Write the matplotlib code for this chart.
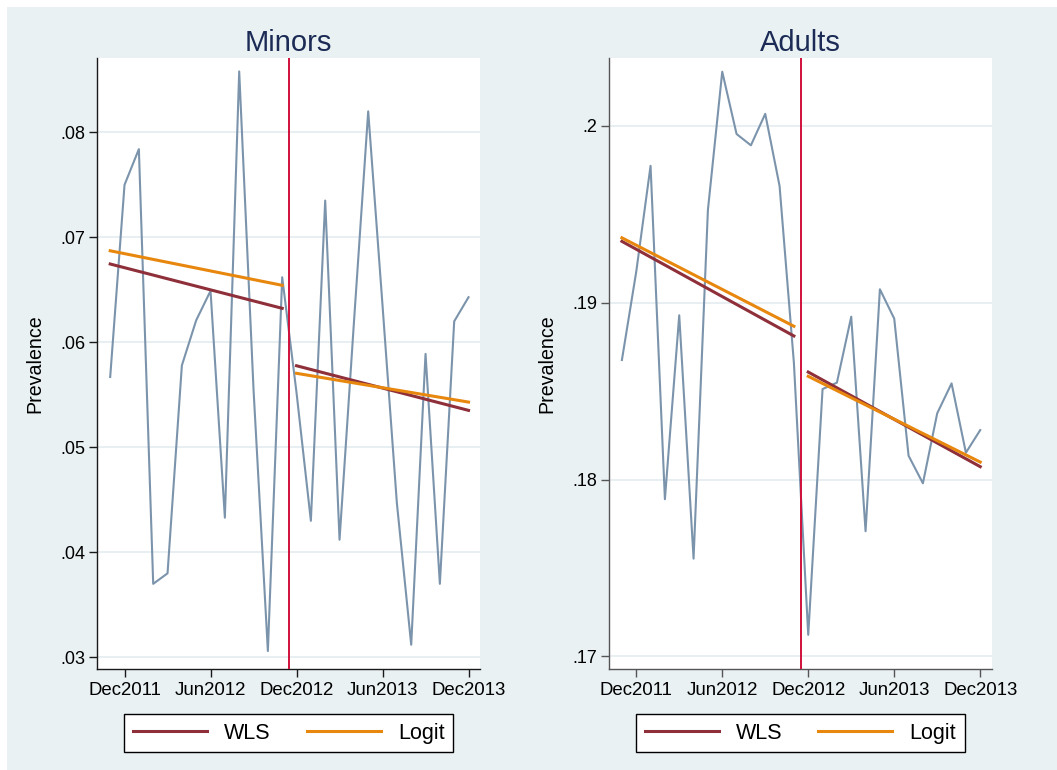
import matplotlib
matplotlib.use("Agg")
import matplotlib.pyplot as plt
from matplotlib.patches import Rectangle

plt.rcParams['font.family'] = ['Liberation Sans', 'DejaVu Sans']

# ---- data -------------------------------------------------------------
months = ["Nov2011", "Dec2011", "Jan2012", "Feb2012", "Mar2012", "Apr2012", "May2012",
          "Jun2012", "Jul2012", "Aug2012", "Sep2012", "Oct2012", "Nov2012", "Dec2012",
          "Jan2013", "Feb2013", "Mar2013", "Apr2013", "May2013", "Jun2013", "Jul2013",
          "Aug2013", "Sep2013", "Oct2013", "Nov2013", "Dec2013"]
tick_labels = ["Dec2011", "Jun2012", "Dec2012", "Jun2013", "Dec2013"]
policy_month = 12.5  # between Nov2012 and Dec2012

minors = [0.0567, 0.0750, 0.0784, 0.0370, 0.0380, 0.0578, 0.0621, 0.0649, 0.0433,
          0.0858, 0.0555, 0.0306, 0.0662, 0.0552, 0.0430, 0.0735, 0.0412, 0.0618,
          0.0820, 0.0635, 0.0447, 0.0312, 0.0589, 0.0370, 0.0620, 0.0643]
adults = [0.18676, 0.19175, 0.19774, 0.17889, 0.18929, 0.17553, 0.19524, 0.20306,
          0.19954, 0.19890, 0.20068, 0.19660, 0.18660, 0.17122, 0.18512, 0.18548,
          0.18921, 0.17708, 0.19076, 0.18910, 0.18135, 0.17979, 0.18375, 0.18544,
          0.18152, 0.18280]

pre_months = ["Nov2011", "Nov2012"]
post_months = ["Dec2012", "Dec2013"]
minors_wls_pre = [0.06746, 0.06324]
minors_logit_pre = [0.06872, 0.06543]
minors_wls_post = [0.05777, 0.05352]
minors_logit_post = [0.05705, 0.05431]
adults_wls_pre = [0.19347, 0.18812]
adults_logit_pre = [0.19367, 0.18867]
adults_wls_post = [0.18608, 0.18073]
adults_logit_post = [0.18584, 0.18099]

minors_yticks = [0.03, 0.04, 0.05, 0.06, 0.07, 0.08]
minors_ylabels = [".03", ".04", ".05", ".06", ".07", ".08"]
adults_yticks = [0.17, 0.18, 0.19, 0.20]
adults_ylabels = [".17", ".18", ".19", ".2"]

# ---- style -------------------------------------------------------------
BG = '#E9F1F3'
GRAY = '#7B94AC'
WLS_C = '#8E2F3A'
LOGIT_C = '#E8870E'
VLINE_C = '#D0103A'
TITLE_C = '#1C2B55'
GRID_C = '#E6EEF2'

W, H = 1057, 770
fig = plt.figure(figsize=(W / 100, H / 100), dpi=100, facecolor='white')
fig.patches.append(Rectangle((7 / W, 0), 1 - 7 / W, 1 - 7 / H, transform=fig.transFigure,
                             facecolor=BG, edgecolor='none', zorder=-10))

idx = {m: i for i, m in enumerate(months)}
xs = list(range(len(months)))


def panel(left_px, title, series, wp, lp, wq, lq, yticks, ylabels, ylim, spine_c):
    ax = fig.add_axes([left_px / W, 1 - 669 / H, 382.7 / W, (669 - 58.3) / H])
    ax.set_facecolor('white')
    for yt in yticks:
        ax.axhline(yt, color=GRID_C, lw=1.3, zorder=0)
    ax.plot(xs, series, color=GRAY, lw=1.5, zorder=2)
    ax.plot([idx[m] for m in pre_months], wp, color=WLS_C, lw=2.2, zorder=3, label='WLS')
    ax.plot([idx[m] for m in pre_months], lp, color=LOGIT_C, lw=2.2, zorder=3, label='Logit')
    ax.plot([idx[m] for m in post_months], wq, color=WLS_C, lw=2.2, zorder=3)
    ax.plot([idx[m] for m in post_months], lq, color=LOGIT_C, lw=2.2, zorder=3)
    ax.axvline(policy_month, color=VLINE_C, lw=1.4, zorder=4)
    ax.set_xlim(-0.9, 25.8)
    ax.set_ylim(*ylim)
    ax.set_xticks([idx[t] for t in tick_labels])
    ax.set_xticklabels(tick_labels)
    ax.set_yticks(yticks)
    ax.set_yticklabels(ylabels)
    for s in ['top', 'right']:
        ax.spines[s].set_visible(False)
    for s in ['left', 'bottom']:
        ax.spines[s].set_color(spine_c)
        ax.spines[s].set_linewidth(1.0)
    ax.tick_params(axis='both', length=5.5, width=1.0, color=spine_c, labelcolor='black')
    ax.tick_params(axis='x', pad=4, labelsize=13.4)
    ax.tick_params(axis='y', pad=3, labelsize=13.0)
    ax.set_ylabel('Prevalence', fontsize=14.1)
    ax.yaxis.set_label_coords(-0.137, 0.5)
    ax.set_title(title, fontsize=21, color=TITLE_C, pad=5.5)
    cx = (left_px + 382.7 / 2) / W
    leg = ax.legend(loc='upper center', bbox_to_anchor=(cx, 1 - 714 / H),
                    bbox_transform=fig.transFigure, ncol=2, fontsize=15.5,
                    frameon=True, fancybox=False, framealpha=1, edgecolor='black',
                    borderpad=0.4, handlelength=3.44, handletextpad=0.8,
                    columnspacing=1.66, borderaxespad=0)
    leg.get_frame().set_linewidth(1.0)
    for l in leg.get_lines():
        l.set_linewidth(2.2)
    return ax


panel(97.3, 'Minors', minors, minors_wls_pre, minors_logit_pre, minors_wls_post,
      minors_logit_post, minors_yticks, minors_ylabels, (0.02889, 0.08705), '#1a1a1a')
panel(609.0, 'Adults', adults, adults_wls_pre, adults_logit_pre, adults_wls_post,
      adults_logit_post, adults_yticks, adults_ylabels, (0.16929, 0.20382), '#555555')

fig.savefig('out.png', dpi=100, facecolor=fig.get_facecolor())
